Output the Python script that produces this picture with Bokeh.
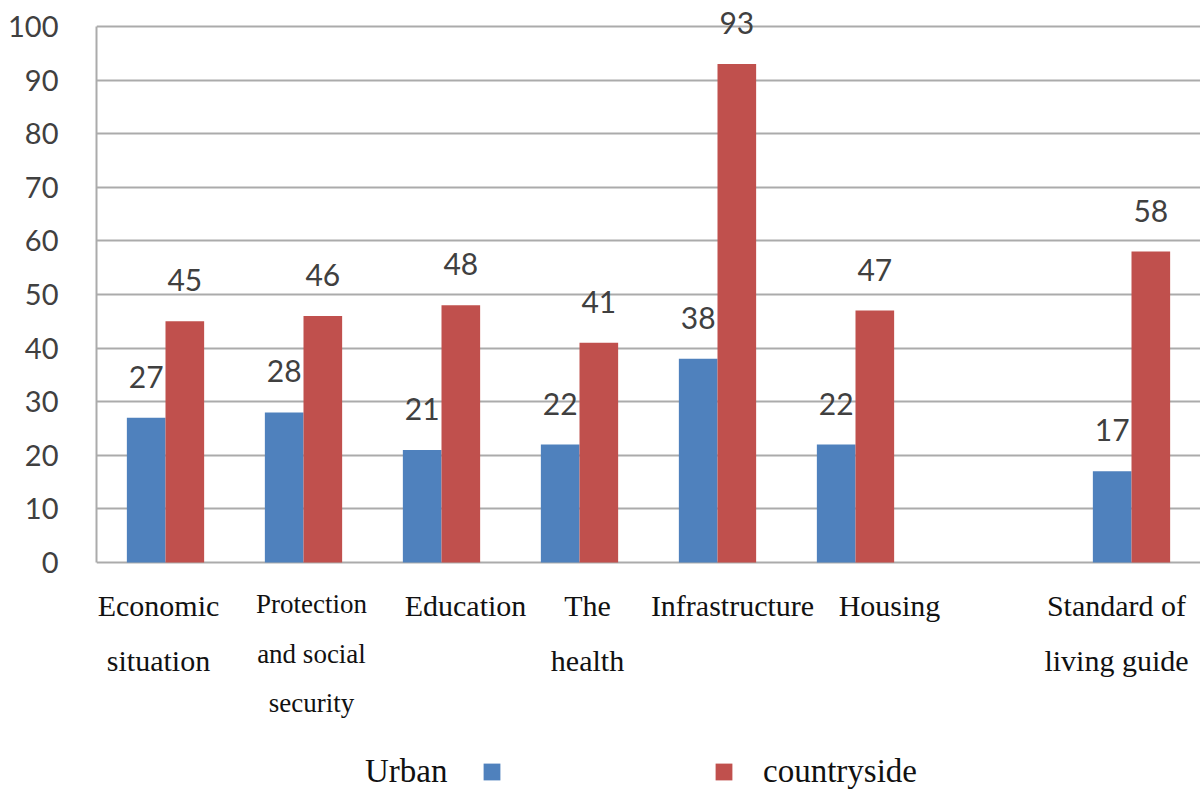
from bokeh.plotting import figure
from bokeh.models import (FactorRange, ColumnDataSource, Legend, LegendItem,
                          FixedTicker, Range1d)
from bokeh.transform import dodge
from bokeh.core.properties import value
from bokeh.embed import file_html
from bokeh.resources import INLINE

# ---- data ----
categories = ["Economic\nsituation", "Protection\nand social\nsecurity", "Education",
              "The\nhealth", "Infrastructure", "Housing", "Standard of\nliving guide"]
urban = [27, 28, 21, 22, 38, 22, 17]
countryside = [45, 46, 48, 41, 93, 47, 58]
y_ticks = [0, 10, 20, 30, 40, 50, 60, 70, 80, 90, 100]
series_names = ["Urban", "countryside"]
colors = ["#4f81bd", "#c0504d"]

# ---- label styling (layout only) ----
label_shift_px = [-7, 8, 24, 8, 15, 34, -15]
label_size = ["30px", "27px", "30px", "30px", "30px", "30px", "30px"]

# an empty slot sits between "Housing" and the last category in the original
slots = categories[:6] + [" "] + categories[6:]

src = ColumnDataSource(dict(
    cat=categories,
    zero=[0] * len(categories),
    urban=urban,
    countryside=countryside,
    urban_txt=[str(v) for v in urban],
    country_txt=[str(v) for v in countryside],
    shift=label_shift_px,
    size=label_size,
))

# the frame covers the whole canvas; the region below 0 holds the category
# labels and the legend (value axis drawn only from 0 to 100)
p = figure(x_range=FactorRange(*slots), y_range=Range1d(-46.27, 104.85),
           width=1200, height=810, output_backend="svg", toolbar_location=None,
           x_axis_location=None,
           min_border_left=96, min_border_right=0, min_border_top=0,
           min_border_bottom=0)

grid_col = "#ababab"
p.outline_line_color = None
p.background_fill_color = "white"
p.border_fill_color = "white"

bw = 0.28
r_urban = p.vbar(x=dodge("cat", -bw / 2, range=p.x_range), top="urban", width=bw,
                 source=src, fill_color=colors[0], line_color=None)
r_country = p.vbar(x=dodge("cat", bw / 2, range=p.x_range), top="countryside", width=bw,
                   source=src, fill_color=colors[1], line_color=None)

lab_font = value("Lato")
p.text(x=dodge("cat", -bw / 2, range=p.x_range), y="urban", text="urban_txt",
       source=src, text_align="center", text_baseline="bottom", y_offset=-30,
       text_font=lab_font, text_font_size="30px", text_color="#404040")
p.text(x=dodge("cat", bw / 2, range=p.x_range), y="countryside", text="country_txt",
       source=src, text_align="center", text_baseline="bottom", y_offset=-30,
       text_font=lab_font, text_font_size="30px", text_color="#404040")

# category labels under the baseline
p.text(x="cat", y="zero", text="cat", source=src, text_align="center",
       text_baseline="top", x_offset="shift", y_offset=27,
       text_font=value("Liberation Serif"), text_font_size="size",
       text_color="#111111", text_line_height=1.65)

# y axis
p.yaxis.ticker = FixedTicker(ticks=y_ticks)
p.yaxis.bounds = (0, 100)
p.yaxis.major_tick_line_color = None
p.yaxis.minor_tick_line_color = None
p.yaxis.axis_line_color = grid_col
p.yaxis.axis_line_width = 2
p.yaxis.major_label_text_font = "Lato"
p.yaxis.major_label_text_font_size = "29px"
p.yaxis.major_label_text_color = "#404040"
p.yaxis.major_label_standoff = 32

p.ygrid.ticker = FixedTicker(ticks=y_ticks)
p.ygrid.grid_line_color = grid_col
p.ygrid.grid_line_width = 2
p.xgrid.grid_line_color = None

# legend: the original shows "Urban" before its swatch
dummy = p.vbar(x=[], top=[], width=0.1, fill_alpha=0, line_alpha=0)
leg_style = dict(orientation="horizontal", glyph_width=21, glyph_height=21,
                 padding=0, margin=0, border_line_alpha=0, background_fill_alpha=0,
                 label_text_font="Liberation Serif", label_text_font_size="33px",
                 label_text_color="#111111")
leg1 = Legend(items=[LegendItem(label=series_names[0], renderers=[dummy]),
                     LegendItem(label=" ", renderers=[r_urban])],
              location=(238, 20), label_standoff=10, spacing=34, **leg_style)
leg2 = Legend(items=[LegendItem(label=series_names[1], renderers=[r_country])],
              location=(617, 20), label_standoff=29, spacing=0, **leg_style)
p.add_layout(leg1)
p.add_layout(leg2)

open("out.html", "w").write(file_html(p, INLINE))
